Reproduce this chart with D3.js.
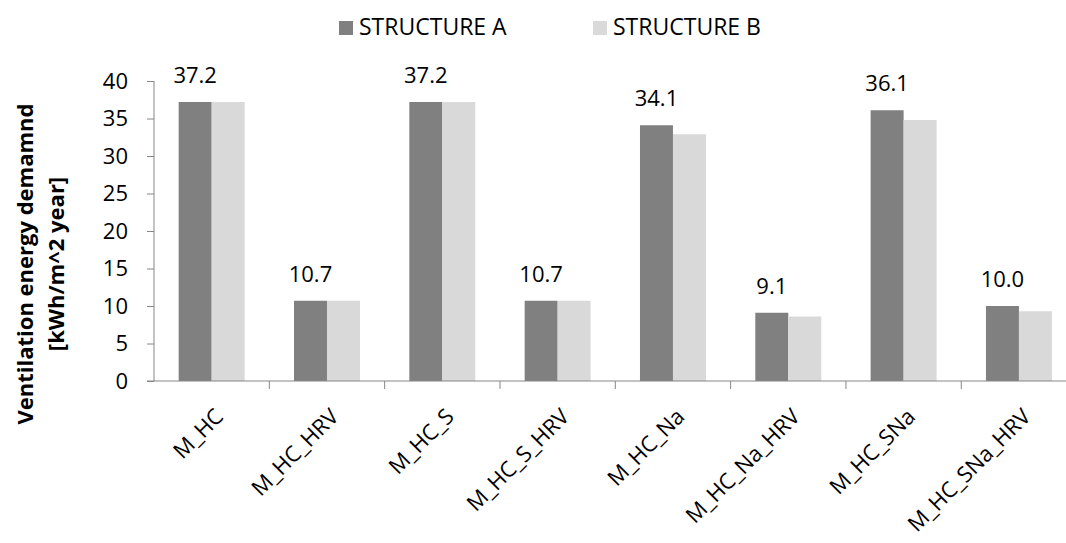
<!DOCTYPE html>
<html>
<head>
<meta charset="utf-8">
<script src="https://cdn.jsdelivr.net/npm/d3@7"></script>
<style>
  html, body { margin: 0; padding: 0; background: #fff; }
  svg { display: block; font-family: "Open Sans", sans-serif; }
</style>
</head>
<body>
<svg id="chart" width="1066" height="543"></svg>
<script>
const categories = ["M_HC", "M_HC_HRV", "M_HC_S", "M_HC_S_HRV", "M_HC_Na", "M_HC_Na_HRV", "M_HC_SNa", "M_HC_SNa_HRV"];
const seriesNames = ["STRUCTURE A", "STRUCTURE B"];
const structureA = [37.2, 10.7, 37.2, 10.7, 34.1, 9.1, 36.1, 10.0];
const structureB = [37.2, 10.7, 37.2, 10.7, 32.9, 8.6, 34.8, 9.3];
const yTicks = [0, 5, 10, 15, 20, 25, 30, 35, 40];
const yTitle = ["Ventilation energy demamnd", "[kWh/m^2 year]"];
const colors = ["#808080", "#d9d9d9"];

const svg = d3.select("#chart");
const plotLeft = 154, plotRight = 1076.6, plotTop = 81, plotBottom = 381;

const x0 = d3.scaleBand().domain(categories).range([plotLeft, plotRight]).padding(0);
const x1 = d3.scaleBand().domain(seriesNames).range([0, x0.bandwidth()]).paddingInner(0).paddingOuter(0.748);
const y = d3.scaleLinear().domain([0, 40]).range([plotBottom, plotTop]);

const axisColor = "#868686";

// Bars
const data = categories.map((c, i) => ({ cat: c, vals: [structureA[i], structureB[i]] }));
const groups = svg.append("g").selectAll("g").data(data).join("g")
  .attr("transform", d => `translate(${x0(d.cat)},0)`);
groups.selectAll("rect").data(d => d.vals.map((v, j) => ({ s: seriesNames[j], v, j })))
  .join("rect")
  .attr("x", d => x1(d.s))
  .attr("width", x1.bandwidth())
  .attr("y", d => y(d.v))
  .attr("height", d => y(0) - y(d.v))
  .attr("fill", d => colors[d.j]);

// Data labels (structure A)
groups.append("text")
  .attr("x", x1(seriesNames[0]) + x1.bandwidth() / 2)
  .attr("y", d => y(d.vals[0]) - 19)
  .attr("text-anchor", "middle")
  .attr("font-size", 22)
  .attr("fill", "#000")
  .text(d => d.vals[0].toFixed(1));

// Y axis
const yAxis = svg.append("g").attr("transform", `translate(${plotLeft},0)`)
  .call(d3.axisLeft(y).tickValues(yTicks).tickSize(7).tickPadding(19).tickFormat(d3.format("d")));
yAxis.select(".domain").attr("stroke", axisColor).attr("d", `M0,${plotTop}V${plotBottom}`);
yAxis.selectAll(".tick line").attr("stroke", axisColor);
yAxis.selectAll(".tick text").attr("font-size", 22).attr("font-family", "Open Sans").attr("fill", "#000");

// X axis
const xAxisG = svg.append("g").attr("transform", `translate(0,${plotBottom})`);
xAxisG.append("line").attr("x1", plotLeft - 7).attr("x2", plotRight).attr("y1", 0).attr("y2", 0).attr("stroke", axisColor);
xAxisG.selectAll("line.tk").data(categories).join("line")
  .attr("class", "tk")
  .attr("x1", d => x0(d) + x0.step())
  .attr("x2", d => x0(d) + x0.step())
  .attr("y1", 0).attr("y2", 8).attr("stroke", axisColor);
xAxisG.selectAll("text").data(categories).join("text")
  .attr("transform", d => `translate(${x0(d) + x0.bandwidth() / 2 + 13},${37}) rotate(-45)`)
  .attr("text-anchor", "end")
  .attr("font-size", 22)
  .attr("fill", "#000")
  .text(d => d);

// Y title
const yt = svg.append("text")
  .attr("transform", `translate(33,264) rotate(-90)`)
  .attr("text-anchor", "middle")
  .attr("font-size", 22)
  .attr("font-weight", "bold")
  .attr("fill", "#000");
yt.append("tspan").attr("x", 0).attr("y", 0).text(yTitle[0]);
yt.append("tspan").attr("x", 0).attr("y", 31).text(yTitle[1]);

// Legend
const legendPos = [339, 593];
const lg = svg.append("g").selectAll("g").data(seriesNames).join("g")
  .attr("transform", (d, i) => `translate(${legendPos[i]},0)`);
lg.append("rect").attr("x", 0).attr("y", 21).attr("width", 14).attr("height", 14)
  .attr("fill", (d, i) => colors[i]);
lg.append("text").attr("x", 20).attr("y", 35).attr("font-size", 23).attr("fill", "#000").text(d => d);
</script>
</body>
</html>
